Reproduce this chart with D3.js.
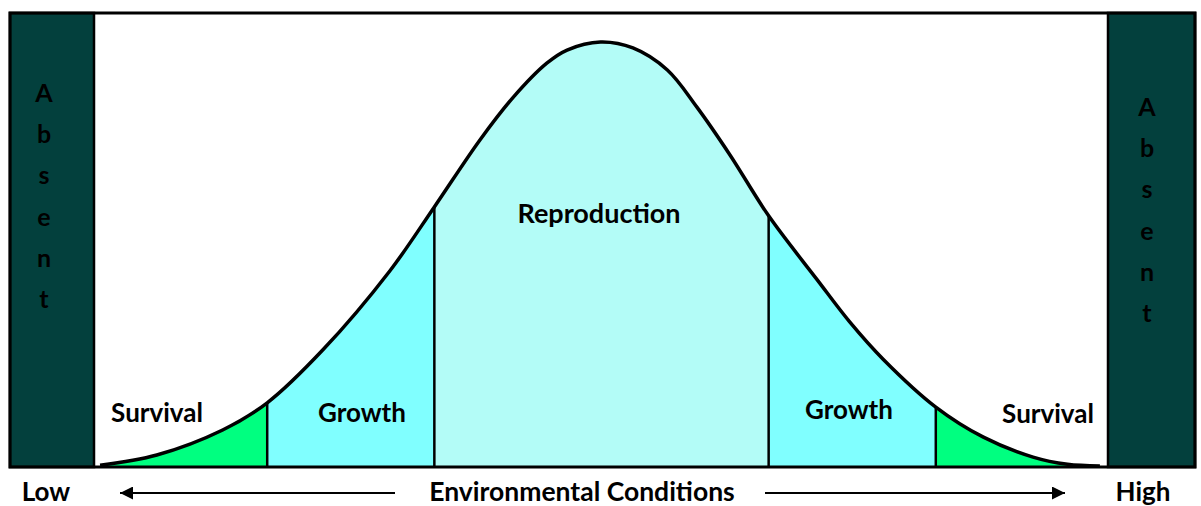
<!DOCTYPE html>
<html>
<head>
<meta charset="utf-8">
<script src="https://cdn.jsdelivr.net/npm/d3@7"></script>
<style>
  body { margin: 0; background: #fff; }
  text { font-family: Lato, "Open Sans", sans-serif; font-weight: bold; fill: #000; }
</style>
</head>
<body>
<div class="chart"></div>
<script>
(function() {
  'use strict';

  const WIDTH = 1201;
  const HEIGHT = 506;

  // Tolerance curve (x: conditions 0-100, y: performance 0-100)
  const CURVE_X = [0.5, 6.1, 12.6, 17.0, 22.5, 29.1, 33.5, 38.0, 41.3, 44.6, 46.6, 49.9,
                   53.1, 56.5, 59.4, 62.7, 66.5, 71.3, 74.5, 77.8, 83.0, 87.7, 92.6, 96.0, 99.2];
  const CURVE_Y = [0.2, 2.6, 8.5, 14.9, 27.4, 46.0, 61.1, 76.9, 87.0, 95.0, 98.1, 100,
                   98.6, 93.4, 84.7, 73.3, 59.0, 43.9, 34.0, 25.2, 13.9, 6.8, 2.1, 0.4, 0];

  // Zones under the curve
  const ZONES = ['Survival', 'Growth', 'Reproduction', 'Growth', 'Survival'];
  const ZONE_EDGES = [0, 17.0, 33.5, 66.5, 83.0, 100];
  const ZONE_COLORS = {Survival: '#00ff80', Growth: '#80ffff', Reproduction: '#b3fcf7'};

  const SIDE_LABEL = 'Absent';
  const AXIS_LOW = 'Low';
  const AXIS_HIGH = 'High';
  const AXIS_TITLE = 'Environmental Conditions';

  const points = CURVE_X.map(function(x, i) { return {x: x, y: CURVE_Y[i]}; });

  const x = d3.scaleLinear().domain([0, 100]).range([95, 1108]);
  const y = d3.scaleLinear().domain([0, 100]).range([466, 42]);

  const svg = d3.select('.chart')
    .append('svg')
    .attr('width', WIDTH)
    .attr('height', HEIGHT);

  const defs = svg.append('defs');

  const smooth = d3.curveCatmullRom.alpha(0.5);

  const area = d3.area()
    .x(function(d) { return x(d.x); })
    .y0(y(0))
    .y1(function(d) { return y(d.y); })
    .curve(smooth);

  const line = d3.line()
    .x(function(d) { return x(d.x); })
    .y(function(d) { return y(d.y); })
    .curve(smooth);

  // Clip that is the region under the curve
  defs.append('clipPath').attr('id', 'under')
    .append('path').attr('d', area(points));

  // Zone fills
  for (let i = 0; i < ZONES.length; ++i) {
    svg.append('rect')
      .attr('clip-path', 'url(#under)')
      .attr('x', x(ZONE_EDGES[i]))
      .attr('y', y(105))
      .attr('width', x(ZONE_EDGES[i + 1]) - x(ZONE_EDGES[i]))
      .attr('height', y(0) - y(105))
      .attr('fill', ZONE_COLORS[ZONES[i]]);
  }

  // Dividers between zones, cut off at the curve
  svg.append('g').attr('clip-path', 'url(#under)')
    .selectAll('line')
    .data(ZONE_EDGES.slice(1, -1))
    .enter().append('line')
    .attr('x1', function(d) { return x(d); })
    .attr('x2', function(d) { return x(d); })
    .attr('y1', y(0))
    .attr('y2', y(105))
    .attr('stroke', '#000')
    .attr('stroke-width', 2.5);

  // The curve itself
  svg.append('path')
    .attr('d', line(points))
    .attr('fill', 'none')
    .attr('stroke', '#000')
    .attr('stroke-width', 3.5)
    .attr('stroke-linejoin', 'round');

  // Dark "absent" bars on both sides
  const bars = [[10, x(0) - 1], [x(100), 1195]];
  bars.forEach(function(b) {
    svg.append('rect')
      .attr('x', b[0]).attr('y', 13)
      .attr('width', b[1] - b[0]).attr('height', 467 - 13)
      .attr('fill', '#03403d')
      .attr('stroke', '#000')
      .attr('stroke-width', 2.5);
  });

  // Outer frame
  svg.append('rect')
    .attr('x', 10).attr('y', 13)
    .attr('width', 1185).attr('height', 454)
    .attr('fill', 'none')
    .attr('stroke', '#000')
    .attr('stroke-width', 3);

  // Vertical "Absent" letters
  const letters = SIDE_LABEL.split('');
  [[44, 102], [1147, 116]].forEach(function(p) {
    svg.append('g').selectAll('text')
      .data(letters)
      .enter().append('text')
      .attr('x', p[0])
      .attr('y', function(d, i) { return p[1] + i * 41.2; })
      .attr('text-anchor', 'middle')
      .attr('font-size', 25)
      .text(function(d) { return d; });
  });

  // Zone labels
  const labelPos = [[157, 422], [362, 422], [599, 223], [849, 419], [1048, 423]];
  ZONES.forEach(function(z, i) {
    svg.append('text')
      .attr('x', labelPos[i][0])
      .attr('y', labelPos[i][1])
      .attr('text-anchor', 'middle')
      .attr('font-size', z === 'Reproduction' ? 27 : 26)
      .text(z);
  });

  // Axis row: Low  <----  Environmental Conditions  ---->  High
  const axisY = 493;
  const textY = 501;
  svg.append('text').attr('x', 46).attr('y', textY)
    .attr('text-anchor', 'middle').attr('font-size', 26).text(AXIS_LOW);
  svg.append('text').attr('x', 1143).attr('y', textY)
    .attr('text-anchor', 'middle').attr('font-size', 26).text(AXIS_HIGH);
  svg.append('text').attr('x', 582).attr('y', textY)
    .attr('text-anchor', 'middle').attr('font-size', 26.5).text(AXIS_TITLE);

  defs.append('marker')
    .attr('id', 'head')
    .attr('viewBox', '0 0 10 10')
    .attr('refX', 10).attr('refY', 5)
    .attr('markerWidth', 17).attr('markerHeight', 13)
    .attr('markerUnits', 'userSpaceOnUse')
    .attr('orient', 'auto')
    .append('path')
    .attr('d', 'M0,0L10,5L0,10Z')
    .attr('fill', '#000');

  [[395, 120], [765, 1065]].forEach(function(a) {
    svg.append('line')
      .attr('x1', a[0]).attr('x2', a[1])
      .attr('y1', axisY).attr('y2', axisY)
      .attr('stroke', '#000')
      .attr('stroke-width', 2)
      .attr('marker-end', 'url(#head)');
  });
})();
</script>
</body>
</html>
